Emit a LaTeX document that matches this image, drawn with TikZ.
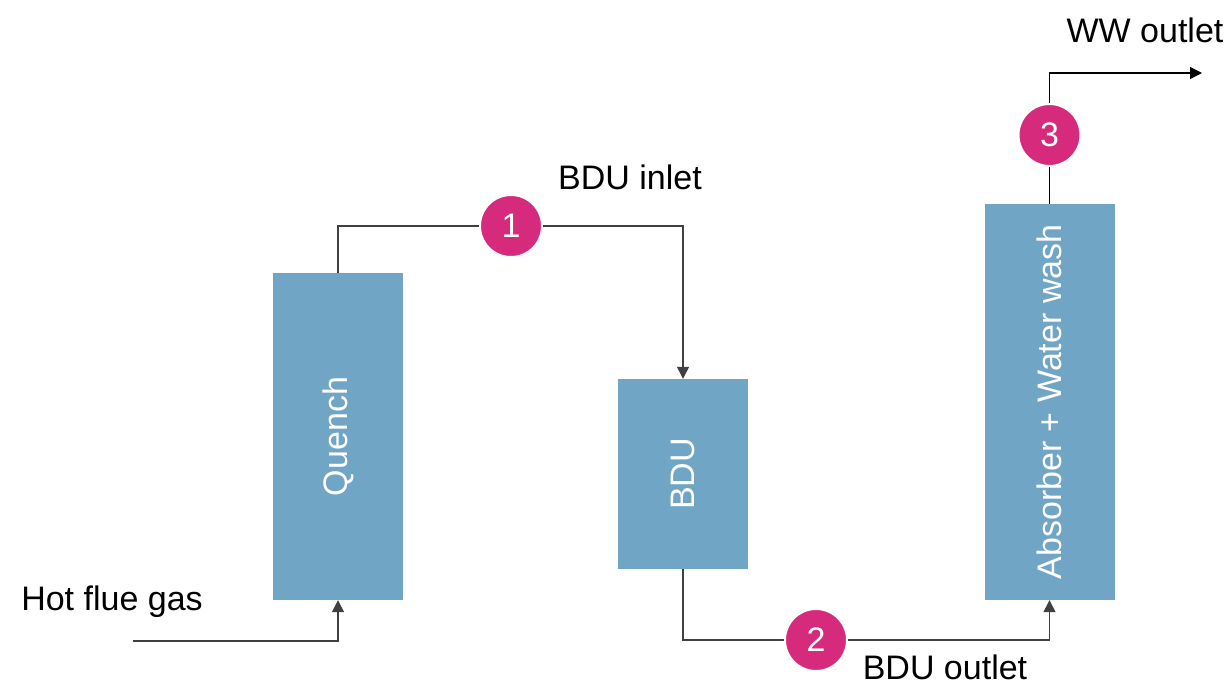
\documentclass[tikz,border=0pt]{standalone}
\usepackage{fontspec}
\setmainfont{Liberation Sans}
\usepackage{tikz}
\usetikzlibrary{arrows.meta,positioning,calc}
\definecolor{unitblue}{HTML}{71A5C6}
\definecolor{pointpink}{HTML}{D62B7C}

\begin{document}
\begin{tikzpicture}[
    x=1pt, y=-1pt,
    unit/.style={rectangle, fill=unitblue, minimum width=130pt, inner sep=0pt},
    unitname/.style={rotate=90, text=white, font=\fontsize{34}{40}\selectfont},
    point/.style={circle, fill=pointpink, draw=white, line width=2pt, minimum size=62pt, inner sep=0pt, text=white, font=\fontsize{34}{40}\selectfont},
    tag/.style={font=\fontsize{34}{40}\selectfont},
    flow/.style={-{Triangle[width=12pt,length=12pt]}, line width=1.4pt, black!75},
    pipe/.style={line width=1.4pt, black!75}
  ]
    \useasboundingbox (0,0) rectangle (1232,684);

    % process units
    \node[unit, minimum height=327pt] (quench) at (338,436.5) {};
    \node[unit, minimum height=190pt] (bdu) at (683,474) {};
    \node[unit, minimum height=396pt] (absorber) at (1049.5,402) {};
    \node[unitname] (quenchname) at (quench) {Quench};
    \node[unitname] (bduname) at (bdu) {BDU};
    \node[unitname] (absorbername) at (absorber) {Absorber + Water wash};

    % sampling points
    \node[point] (p1) at (511,226) {1};
    \node[point] (p2) at (816,640) {2};
    \node[point] (p3) at (1049.5,135) {3};

    % stream labels
    \node[tag] (gaslabel) at (112,602) {Hot flue gas};
    \node[tag] (inletlabel) at (630,177) {BDU inlet};
    \node[tag] (outletlabel) at (945,667) {BDU outlet};
    \node[tag] (wwlabel) at (1145,30) {WW outlet};

    \coordinate (gasin) at (133,641);
    \coordinate (wwout) at (1202,73);

    % streams
    \draw[flow] (gasin) -| (quench.south);
    \draw[pipe] (quench.north) |- (p1);
    \draw[flow] (p1) -| (bdu.north);
    \draw[pipe] (bdu.south) |- (p2);
    \draw[flow] (p2) -| (absorber.south);
    \draw[pipe, black] (absorber.north) -- (p3);
    \draw[flow, black] (p3) |- (wwout);
  \end{tikzpicture}
\end{document}
